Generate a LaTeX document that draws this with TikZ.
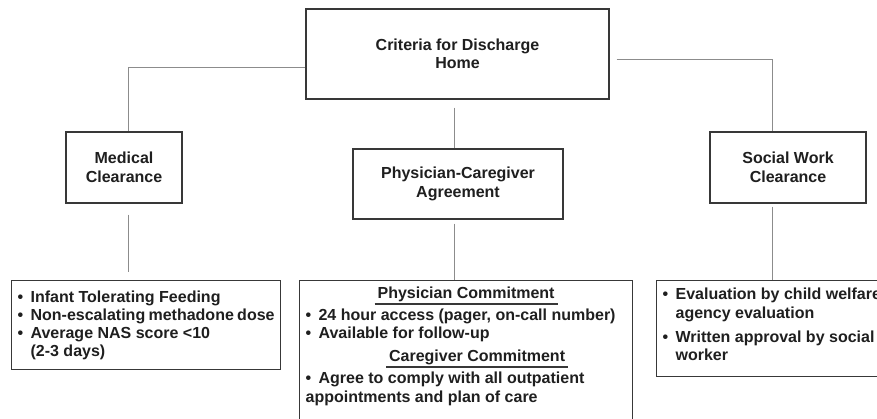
\documentclass[tikz,border=0pt]{standalone}
\usepackage{fontspec}
\setmainfont{Liberation Sans}
\definecolor{boxline}{gray}{0.22}
\definecolor{connline}{gray}{0.55}
\definecolor{inktext}{gray}{0.12}
\newlength{\hdwd}
\newcommand{\bul}{\makebox[13pt][l]{\textbullet}}
\newcommand{\contd}{\hspace*{13pt}}
\newcommand{\heading}[2]{\settowidth{\hdwd}{#2}\makebox[\linewidth][c]{\hspace{#1}\rlap{\hspace{-3pt}\color{boxline}\rule[-6pt]{\dimexpr\hdwd+6pt\relax}{1.2pt}}#2}}
\newcommand{\listtext}[3]{\parbox[t][#1][t]{#2}{\fontsize{16}{18}\selectfont #3}}

\begin{document}
\begin{tikzpicture}[x=1pt, y=-1pt,
		font=\bfseries\fontsize{16}{18.5}\selectfont, text=inktext,
		box/.style={draw=boxline, line width=1.2pt, align=center, inner sep=0pt},
		listbox/.style={draw=boxline, line width=1.2pt, anchor=north west, inner xsep=6pt, inner ysep=0pt},
		conn/.style={draw=connline, line width=1pt}]
		\fill[white] (0,0) rectangle (877,418);
		\clip (0,0) rectangle (877,418);
		
		\draw (457.5,54) node[box, minimum width=303pt, minimum height=90pt] (top) {Criteria for Discharge\\Home};
		\draw (124,167.5) node[box, minimum width=116pt, minimum height=71pt] (med) {Medical\\Clearance};
		\draw (458,184) node[box, minimum width=210pt, minimum height=70pt] (agr) {Physician-Caregiver\\Agreement};
		\draw (788,167.5) node[box, minimum width=156pt, minimum height=71pt] (soc) {Social Work\\Clearance};
		
		\draw (11,280) node[listbox] (medlist) {\listtext{89pt}{257pt}{\rule{0pt}{22pt}\bul Infant Tolerating Feeding\\
				\bul Non-escalating methadone dose\\
				\bul Average NAS score <10\\
				\contd (2-3 days)}};
		\draw (299,280) node[listbox] (agrlist) {\listtext{160pt}{321pt}{\rule{0pt}{18pt}\heading{0pt}{Physician Commitment}\\[4pt]
				\bul 24 hour access (pager, on-call number)\\
				\bul Available for follow-up\\[5pt]
				\heading{22pt}{Caregiver Commitment}\\[4pt]
				\bul Agree to comply with all outpatient\\[1pt]
				appointments and plan of care}};
		\draw (656,280) node[listbox] (soclist) {\listtext{96pt}{240pt}{\rule{0pt}{19pt}\bul Evaluation by child welfare\\[1pt]
				\contd agency evaluation\\[6pt]
				\bul Written approval by social\\
				\contd worker}};
		
		\draw[conn] ([yshift=-13pt]top.west) -| ([xshift=4pt]med.north);
		\draw[conn] ([xshift=7pt,yshift=-5pt]top.east) -| ([xshift=-16pt]soc.north);
		\draw[conn, shorten <=8pt] ([xshift=-3.5pt]top.south) -- ([xshift=-3.5pt]top.south |- agr.north);
		
		\draw[conn, shorten <=11pt, shorten >=8pt] ([xshift=4pt]med.south) -- ([xshift=4pt]med.south |- medlist.north);
		\draw[conn, shorten <=4pt] ([xshift=-4pt]agr.south) -- ([xshift=-4pt]agr.south |- agrlist.north);
		\draw[conn, shorten <=3pt] ([xshift=-16pt]soc.south) -- ([xshift=-16pt]soc.south |- soclist.north);
	\end{tikzpicture}
\end{document}
